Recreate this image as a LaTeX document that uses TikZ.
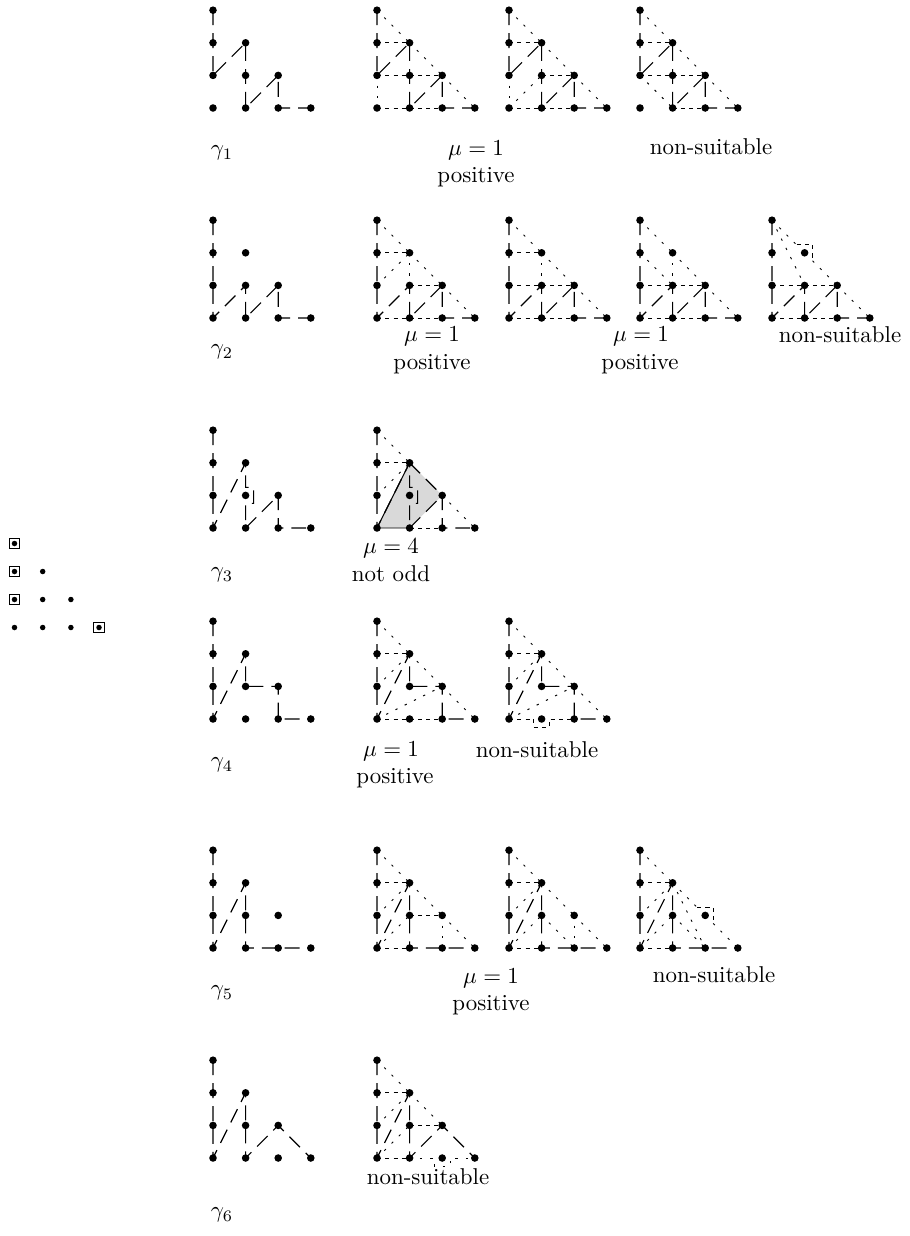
\documentclass[tikz,border=0pt]{standalone}
\begin{document}
\begin{tikzpicture}[x=0.015337cm, y=-0.015337cm,
  gam/.style={line width=0.5pt, dash pattern=on 6.5pt off 3.5pt},
  sdash/.style={line width=0.4pt, dash pattern=on 1.8pt off 1.8pt},
  dotl/.style={line width=0.4pt, dash pattern=on 1pt off 3.5pt},
  lab/.style={inner sep=0pt, anchor=center}]
\useasboundingbox (0,0) rectangle (909,1236);
\newcommand{\mkgrid}[3]{\foreach \i/\j in {0/0,1/0,2/0,3/0,0/1,1/1,2/1,0/2,1/2,0/3}{\coordinate (#1\i\j) at ({#2+32.6*\i},{#3-32.6*\j});}}
\newcommand{\dts}[2]{\foreach \pp in {#2}{\fill (#1\pp) circle[radius=1.65pt];}}
\newcommand{\alldts}[1]{\dts{#1}{00,10,20,30,01,11,21,02,12,03}}
\newcommand{\edg}[3]{\foreach \a/\b in {#3}{\draw[#1] (#2\a) -- (#2\b);}}
\newcommand{\gpath}[2]{\draw[gam] (#103) \foreach \q in {#2}{ -- (#1\q)};}
% ---------- left figure ----------
\foreach \n/\x/\y in {L03/14.5/543.5,L02/14.5/571.5,L12/42.7/571.5,L01/14.5/599.5,L11/42.7/599.5,L21/70.9/599.5,L00/14.5/627.5,L10/42.7/627.5,L20/70.9/627.5,L30/99/627.5}{\coordinate (\n) at (\x,\y);}
\foreach \n in {L03,L02,L12,L01,L11,L21,L00,L10,L20,L30}{\fill (\n) circle[radius=1.2pt];}
\foreach \n in {L03,L02,L01,L30}{\draw[line width=0.4pt] (\n) ++(-2.3pt,-2.3pt) rectangle ++(4.6pt,4.6pt);}
% ---------- row 1 ----------
\mkgrid{r1a}{213}{108}\mkgrid{r1b}{377}{108}\mkgrid{r1c}{509}{108}\mkgrid{r1d}{640}{108}
\gpath{r1a}{02,01,12,11,10,21,20,30}
\edg{dotl}{r1b}{03/12,12/21,21/30,01/00}
\edg{sdash}{r1b}{00/10,10/20,02/12,01/11,11/21}
\gpath{r1b}{02,01,12,11,10,21,20,30}
\edg{dotl}{r1c}{03/12,12/21,21/30,01/00,00/11}
\edg{sdash}{r1c}{02/12,11/21,00/10,10/20}
\gpath{r1c}{02,01,12,11,10,21,20,30}
\edg{dotl}{r1d}{03/12,12/21,21/30,01/10}
\edg{sdash}{r1d}{02/12,01/11,11/21,10/20}
\gpath{r1d}{02,01,12,11,10,21,20,30}
\alldts{r1a}\alldts{r1b}\alldts{r1c}\alldts{r1d}
\node[lab] (g1) at (222,153) {$\gamma_1$};
\node[lab] (m1a) at (476,150) {$\mu=1$};
\node[lab] (p1a) at (476,177) {positive};
\node[lab] (n1) at (711,147) {non-suitable};
% ---------- row 2 ----------
\mkgrid{r2a}{213}{318}\mkgrid{r2b}{377}{318}\mkgrid{r2c}{509}{318}\mkgrid{r2d}{640}{318}\mkgrid{r2e}{772}{318}
\gpath{r2a}{02,01,00,11,10,21,20,30}
\edg{dotl}{r2b}{03/12,12/21,21/30,12/11,01/12}
\edg{sdash}{r2b}{02/12,11/21,00/10,10/20}
\gpath{r2b}{02,01,00,11,10,21,20,30}
\edg{dotl}{r2c}{03/12,12/21,21/30,12/11}
\edg{sdash}{r2c}{02/12,01/11,11/21,00/10,10/20}
\gpath{r2c}{02,01,00,11,10,21,20,30}
\edg{dotl}{r2d}{03/12,12/21,21/30,02/11,12/11}
\edg{sdash}{r2d}{01/11,11/21,00/10,10/20}
\gpath{r2d}{02,01,00,11,10,21,20,30}
\edg{dotl}{r2e}{03/11,21/30}
\draw[dotl] (r2e03) -- ([xshift=-3.5pt,yshift=3.5pt]r2e12);
\draw[sdash] ([xshift=-3.5pt,yshift=3.5pt]r2e12) -- ([xshift=3.5pt,yshift=3.5pt]r2e12) -- ([xshift=3.5pt,yshift=-3.5pt]r2e12);
\draw[dotl] ([xshift=3.5pt,yshift=-3.5pt]r2e12) -- (r2e21);
\edg{sdash}{r2e}{01/11,11/21,00/10,10/20}
\gpath{r2e}{02,01,00,11,10,21,20,30}
\alldts{r2a}\alldts{r2b}\alldts{r2c}\alldts{r2d}\alldts{r2e}
\node[lab] (g2) at (222,352) {$\gamma_2$};
\node[lab] (m2a) at (432,336) {$\mu=1$};
\node[lab] (p2a) at (432,364) {positive};
\node[lab] (m2b) at (641,336) {$\mu=1$};
\node[lab] (p2b) at (640,364) {positive};
\node[lab] (n2) at (840,335) {non-suitable};
% ---------- row 3 ----------
\mkgrid{r3a}{213}{528}\mkgrid{r3b}{377}{528}
\fill[gray!30] (r3b00) -- (r3b12) -- (r3b21) -- (r3b10) -- cycle;
\draw[line width=0.4pt] (r3b10) -- (r3b00) -- (r3b12);
\draw[gam] (r3a03) -- (r3a02) -- (r3a01) -- (r3a00) -- (r3a12) -- ([yshift=3.5pt]r3a11) -- ([xshift=3.5pt,yshift=3.5pt]r3a11) -- ([xshift=3.5pt,yshift=-3.5pt]r3a11) -- ([yshift=-3.5pt]r3a11) -- (r3a10) -- (r3a21) -- (r3a20) -- (r3a30);
\edg{dotl}{r3b}{03/12,21/30,01/12}
\edg{sdash}{r3b}{02/12,10/20}
\edg{gam}{r3b}{12/21}
\draw[gam] (r3b03) -- (r3b02) -- (r3b01) -- (r3b00) -- (r3b12) -- ([yshift=3.5pt]r3b11) -- ([xshift=3.5pt,yshift=3.5pt]r3b11) -- ([xshift=3.5pt,yshift=-3.5pt]r3b11) -- ([yshift=-3.5pt]r3b11) -- (r3b10) -- (r3b21) -- (r3b20) -- (r3b30);
\alldts{r3a}\alldts{r3b}
\node[lab] (g3) at (222,575) {$\gamma_3$};
\node[lab] (m3a) at (391,548) {$\mu=4$};
\node[lab] (p3a) at (391,574) {not odd};
% ---------- row 4 ----------
\mkgrid{r4a}{213}{719}\mkgrid{r4b}{377}{719}\mkgrid{r4c}{509}{719}
\gpath{r4a}{02,01,00,12,11,21,20,30}
\edg{dotl}{r4b}{03/12,12/21,21/30,01/12,00/21}
\edg{sdash}{r4b}{02/12,00/10,10/20}
\gpath{r4b}{02,01,00,12,11,21,20,30}
\edg{dotl}{r4c}{03/12,12/21,21/30,01/12,00/21}
\edg{sdash}{r4c}{02/12}
\draw[sdash] (r4c00) -- ([xshift=-3.5pt]r4c10) -- ([xshift=-3.5pt,yshift=-3.5pt]r4c10) -- ([xshift=3.5pt,yshift=-3.5pt]r4c10) -- ([xshift=3.5pt]r4c10) -- (r4c20);
\gpath{r4c}{02,01,00,12,11,21,20,30}
\alldts{r4a}\alldts{r4b}\alldts{r4c}
\node[lab] (g4) at (222,765) {$\gamma_4$};
\node[lab] (m4a) at (391,751) {$\mu=1$};
\node[lab] (p4a) at (395,778) {positive};
\node[lab] (n4) at (537,750) {non-suitable};
% ---------- row 5 ----------
\mkgrid{r5a}{213}{948}\mkgrid{r5b}{377}{948}\mkgrid{r5c}{509}{948}\mkgrid{r5d}{640}{948}
\gpath{r5a}{02,01,00,12,11,10,20,30}
\edg{dotl}{r5b}{03/12,12/21,21/30,01/12,00/11,21/20}
\edg{sdash}{r5b}{02/12,11/21,00/10}
\gpath{r5b}{02,01,00,12,11,10,20,30}
\edg{dotl}{r5c}{03/12,12/21,21/30,01/12,00/11,11/20,21/20}
\edg{sdash}{r5c}{02/12,00/10}
\gpath{r5c}{02,01,00,12,11,10,20,30}
\edg{dotl}{r5d}{03/12,01/12,00/11,12/20,11/20}
\draw[dotl] (r5d12) -- ([xshift=-3.5pt,yshift=3.5pt]r5d21);
\draw[sdash] ([xshift=-3.5pt,yshift=3.5pt]r5d21) -- ([xshift=3.5pt,yshift=3.5pt]r5d21) -- ([xshift=3.5pt,yshift=-3.5pt]r5d21);
\draw[dotl] ([xshift=3.5pt,yshift=-3.5pt]r5d21) -- (r5d30);
\edg{sdash}{r5d}{02/12,00/10}
\gpath{r5d}{02,01,00,12,11,10,20,30}
\alldts{r5a}\alldts{r5b}\alldts{r5c}\alldts{r5d}
\node[lab] (g5) at (222,993) {$\gamma_5$};
\node[lab] (m5a) at (491,978) {$\mu=1$};
\node[lab] (p5a) at (491,1005) {positive};
\node[lab] (n5) at (714,975) {non-suitable};
% ---------- row 6 ----------
\mkgrid{r6a}{213}{1158}\mkgrid{r6b}{377}{1158}
\gpath{r6a}{02,01,00,12,11,10,21,30}
\edg{dotl}{r6b}{03/12,12/21,01/12,00/11}
\edg{sdash}{r6b}{02/12,11/21,00/10}
\draw[dotl] (r6b10) -- ([xshift=-3.5pt]r6b20) -- ([xshift=-3.5pt,yshift=-3.5pt]r6b20) -- ([xshift=3.5pt,yshift=-3.5pt]r6b20) -- ([xshift=3.5pt]r6b20) -- (r6b30);
\gpath{r6b}{02,01,00,12,11,10,21,30}
\alldts{r6a}\alldts{r6b}
\node[lab] (g6) at (222,1215) {$\gamma_6$};
\node[lab] (n6) at (428,1177) {non-suitable};
\end{tikzpicture}
\end{document}
